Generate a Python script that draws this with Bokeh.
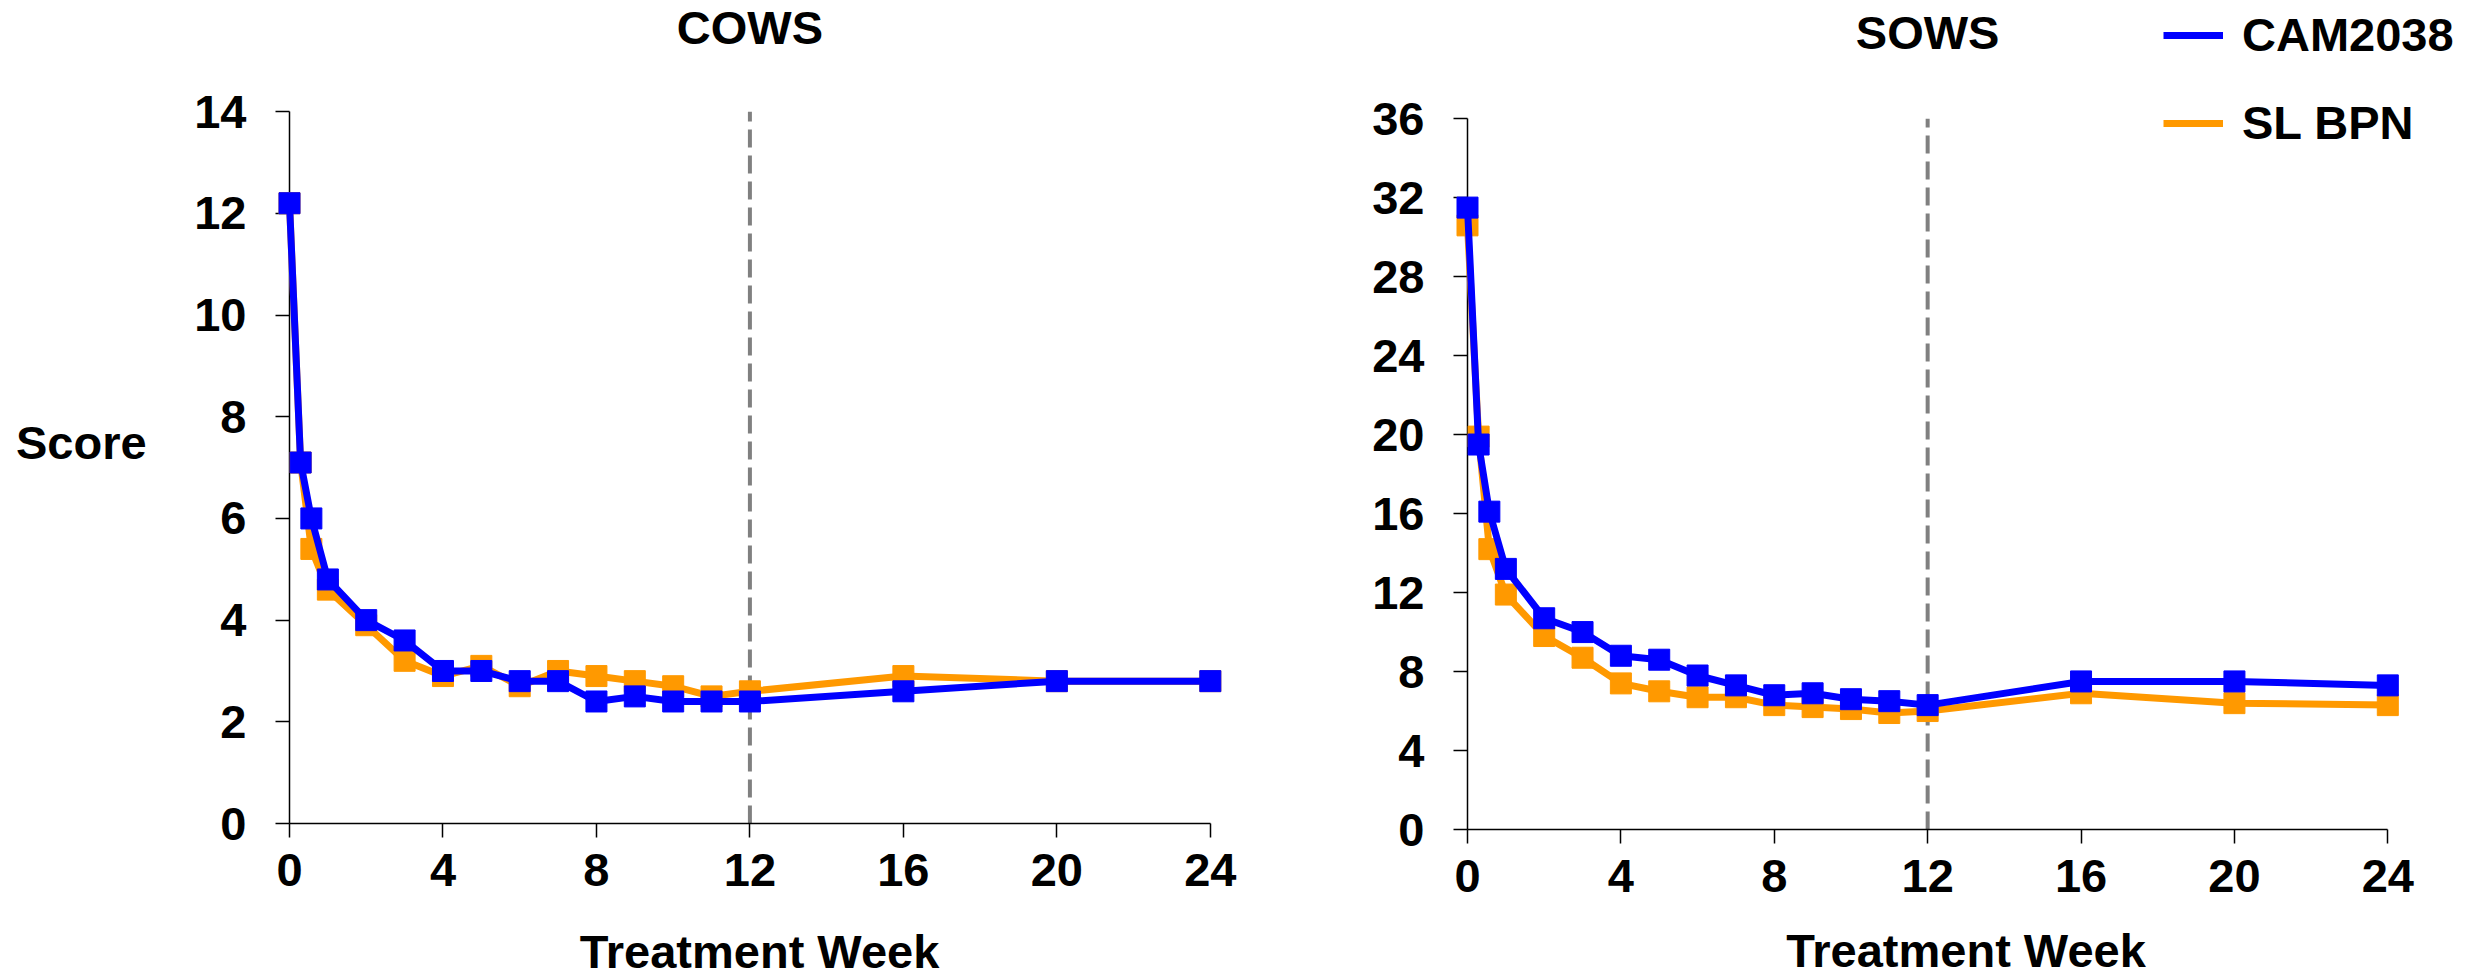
from bokeh.plotting import figure
from bokeh.models import Range1d, FixedTicker, Label, Legend, LegendItem, Div
from bokeh.layouts import row
from bokeh.embed import file_html
from bokeh.resources import INLINE

# ---- data ----
weeks = [0, 0.29, 0.57, 1, 2, 3, 4, 5, 6, 7, 8, 9, 10, 11, 12, 16, 20, 24]
cows_cam2038 = [12.2, 7.1, 6.0, 4.8, 4.0, 3.6, 3.0, 3.0, 2.8, 2.8, 2.4, 2.5, 2.4, 2.4, 2.4, 2.6, 2.8, 2.8]
cows_sl_bpn = [12.2, 7.1, 5.4, 4.6, 3.9, 3.2, 2.9, 3.1, 2.7, 3.0, 2.9, 2.8, 2.7, 2.5, 2.6, 2.9, 2.8, 2.8]
sows_cam2038 = [31.5, 19.5, 16.1, 13.2, 10.7, 10.0, 8.8, 8.6, 7.8, 7.3, 6.8, 6.9, 6.6, 6.5, 6.3, 7.5, 7.5, 7.3]
sows_sl_bpn = [30.6, 19.9, 14.2, 11.9, 9.8, 8.7, 7.4, 7.0, 6.7, 6.7, 6.3, 6.2, 6.1, 5.9, 6.0, 6.9, 6.4, 6.3]
x_ticks = [0, 4, 8, 12, 16, 20, 24]
cows_ticks = [0, 2, 4, 6, 8, 10, 12, 14]
sows_ticks = [0, 4, 8, 12, 16, 20, 24, 28, 32, 36]
series_names = ["CAM2038", "SL BPN"]
panel_titles = ["COWS", "SOWS"]
y_title = "Score"
x_title = "Treatment Week"
week_marker = 12

BLUE = "#0000FF"
ORANGE = "#FF9900"
GRAY = "#808080"
FONT = "Liberation Sans"
FS = "47px"


def make_panel(cam, sl, yticks, x_end, y_end, b_left, f_w, f_h, b_right,
               xlabel_standoff, title, title_y):
    ymax = yticks[-1]
    p = figure(frame_width=f_w, frame_height=f_h,
               min_border_left=b_left, min_border_top=8,
               min_border_bottom=120, min_border_right=b_right,
               x_range=Range1d(x_ticks[0], x_end), y_range=Range1d(yticks[0], y_end),
               output_backend="svg", toolbar_location=None)
    p.outline_line_color = None
    p.xgrid.visible = False
    p.ygrid.visible = False
    p.background_fill_color = "white"
    p.border_fill_color = "white"

    p.segment(x0=[week_marker], y0=[yticks[0]], x1=[week_marker], y1=[ymax],
              line_color=GRAY, line_width=4, line_dash="18 8")

    r_sl = p.line(weeks, sl, line_color=ORANGE, line_width=7, level="overlay")
    p.scatter(weeks, sl, marker="square", size=21, fill_color=ORANGE,
              line_color=ORANGE, level="overlay")
    r_cam = p.line(weeks, cam, line_color=BLUE, line_width=7, level="overlay")
    p.scatter(weeks, cam, marker="square", size=21, fill_color=BLUE,
              line_color=BLUE, level="overlay")

    xa = p.xaxis[0]
    xa.ticker = FixedTicker(ticks=x_ticks)
    xa.bounds = (x_ticks[0], x_ticks[-1])
    xa.axis_label = x_title
    xa.axis_label_standoff = xlabel_standoff
    xa.major_label_standoff = 16

    ya = p.yaxis[0]
    ya.ticker = FixedTicker(ticks=yticks)
    ya.bounds = (yticks[0], ymax)
    ya.major_label_standoff = 29

    for ax in (xa, ya):
        ax.axis_label_text_font = FONT
        ax.axis_label_text_font_style = "bold"
        ax.axis_label_text_font_size = FS
        ax.axis_label_text_color = "black"
        ax.major_label_text_font = FONT
        ax.major_label_text_font_style = "bold"
        ax.major_label_text_font_size = FS
        ax.major_label_text_color = "black"
        ax.major_tick_out = 14
        ax.major_tick_in = 0
        ax.minor_tick_out = 0
        ax.minor_tick_in = 0
        ax.axis_line_color = "black"
        ax.axis_line_width = 1.5
        ax.major_tick_line_color = "black"
        ax.major_tick_line_width = 1.5

    p.add_layout(Label(x=week_marker, y=title_y, text=title, text_align="center",
                       text_baseline="middle", text_font=FONT,
                       text_font_style="bold", text_font_size=FS, text_color="black"))
    return p, r_cam, r_sl


# ---- y-axis title (horizontal, left of the COWS panel) ----
score = Div(text='<div style="font-family:\'Liberation Sans\'; font-weight:bold; '
                 'font-size:47px; line-height:47px; color:black; white-space:nowrap;">'
                 + y_title + '</div>',
            width=140, height=60, margin=(419, 0, 0, 16))

# ---- left panel: COWS ----
p1, _, _ = make_panel(cows_cam2038, cows_sl_bpn, cows_ticks, 24.5, 16.03,
                      133, 940, 815, 40, 36, panel_titles[0], 15.66)

# ---- right panel: SOWS ----
p2, r_cam, r_sl = make_panel(sows_cam2038, sows_sl_bpn, sows_ticks, 26.0, 41.585,
                             198, 997, 821, 6, 29, panel_titles[1], 40.37)

legend = Legend(items=[LegendItem(label=series_names[0], renderers=[r_cam]),
                       LegendItem(label=series_names[1], renderers=[r_sl])],
                location=(696, 679), padding=0, margin=0, spacing=33,
                glyph_width=60, glyph_height=54, label_height=54, label_standoff=19,
                label_text_font=FONT, label_text_font_style="bold",
                label_text_font_size=FS, label_text_color="black",
                border_line_color=None, background_fill_alpha=0)
p2.add_layout(legend, "center")

layout = row(score, p1, p2)
open("out.html", "w").write(file_html(layout, INLINE))
